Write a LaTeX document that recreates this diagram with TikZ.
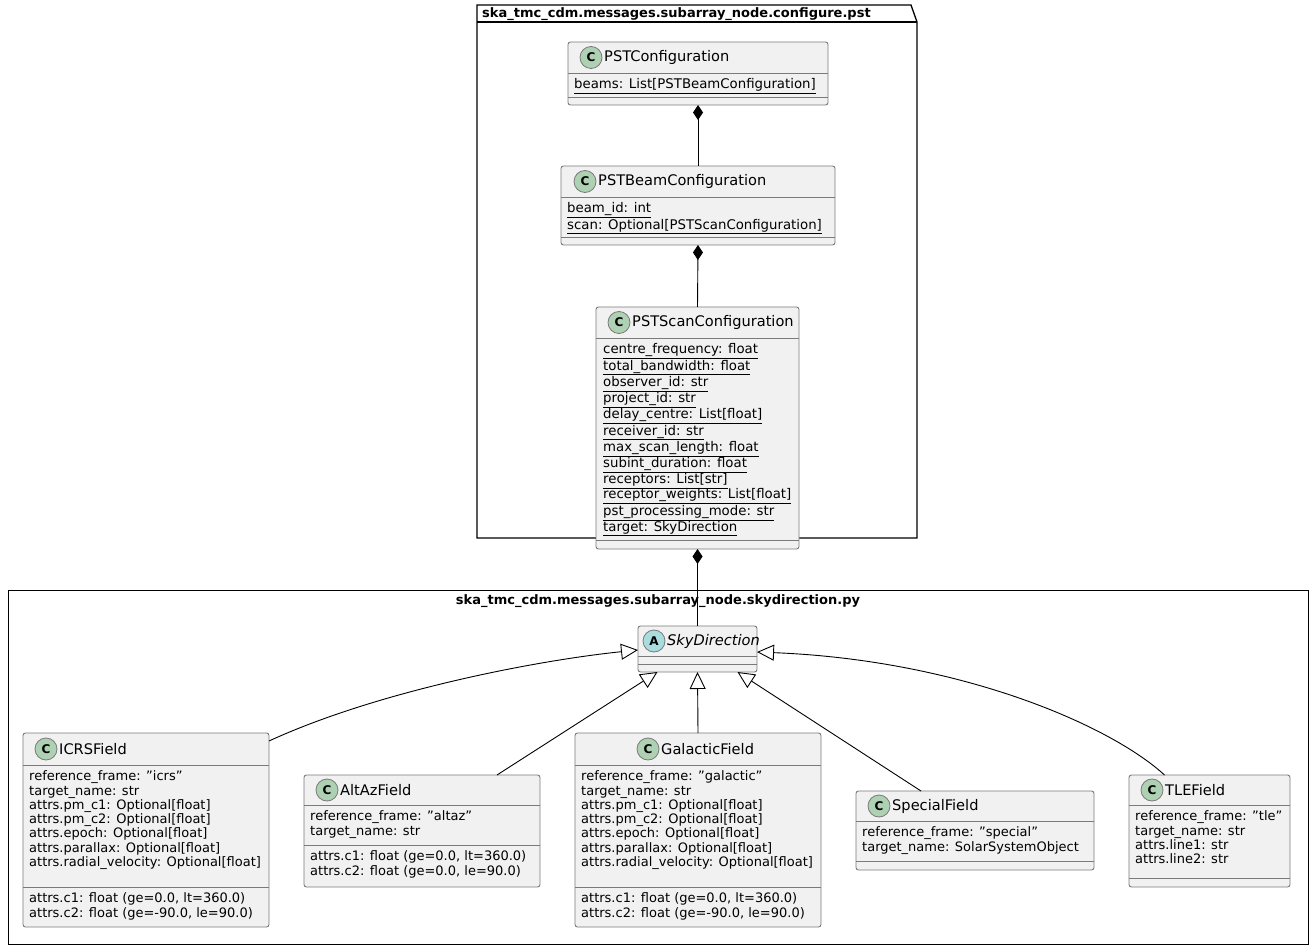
\documentclass[tikz,border=0pt]{standalone}
\usepackage{fontspec}
\setmainfont{DejaVu Sans}
\usepackage{tikz}
\usetikzlibrary{arrows.meta,positioning,shapes.geometric}

\definecolor{boxfill}{HTML}{F1F1F1}
\definecolor{boxline}{HTML}{7A7A7A}
\definecolor{cgreen}{HTML}{ADD1B2}
\definecolor{ablue}{HTML}{A9DCDF}

\newcommand{\dq}{\symbol{34}}

\tikzset{
  umlbox/.style={draw=boxline, fill=boxfill, line width=0.9pt, rounded corners=2.5pt,
    inner sep=0pt, outer sep=0pt},
  umlsep/.style={draw=boxline, line width=0.9pt},
  circ/.style={circle, draw=boxline, line width=0.8pt, minimum size=22pt, inner sep=0pt,
    font=\fontsize{12}{12}\selectfont\bfseries},
  title/.style={anchor=west, inner sep=0pt, font=\fontsize{14.6}{14.6}\selectfont},
  attrs/.style={anchor=north west, inner sep=0pt, align=left,
    font=\fontsize{13}{14.3}\selectfont},
  uattrs/.style={attrs, font=\fontsize{13.3}{15.2}\selectfont},
  pkg/.style={draw=black, line width=1.3pt},
  comp/.style={{Diamond[fill=black,length=15pt,width=10pt]}-, line width=0.9pt},
  inh/.style={-{Triangle[open,fill=white,length=17pt,width=16pt]}, line width=0.9pt}
}

% box: name, x1, x2, top, sep1, sep2, bottom
\newcommand{\umlclass}[7]{
  \node[umlbox, minimum width={(#3-#2)*1pt}, minimum height={(#7-#4)*1pt}]
    (#1) at ({(#2+#3)/2},{(#4+#7)/2}) {};
  \draw[umlsep] (#2,#5) -- (#3,#5);
  \draw[umlsep] (#2,#6) -- (#3,#6);
}
% header: name, circle x, y, letter, colour, title
\newcommand{\umlhead}[6]{
  \node[circ, fill=#5] (#1-c) at (#2,#3) {#4};
  \node[title] (#1-t) at (#2+13,#3) {#6};
}

\begin{document}
\begin{tikzpicture}[x=1pt, y=-1pt]
  \useasboundingbox (0,0) rectangle (1312,949);

  % packages
  \draw[pkg] (477,22) -- (477,5) -- (911,5) -- (917,22) -- (917,538) -- (477,538) -- cycle;
  \draw[pkg] (477,22) -- (917,22);
  \node[anchor=base west, inner sep=0pt, font=\fontsize{13}{13}\selectfont\bfseries]
    (pstpkg) at (482,18) {ska\_tmc\_cdm.messages.subarray\_node.configure.pst};
  \draw[pkg, line width=1pt] (8,590) rectangle (1308,944);
  \node[inner sep=0pt, font=\fontsize{13}{13}\selectfont\bfseries]
    (skypkg) at (658,601) {ska\_tmc\_cdm.messages.subarray\_node.skydirection.py};

  % pst classes
  \umlclass{pstconf}{568}{828}{42}{73}{97}{105}
  \umlhead{pstconf}{591}{57.5}{C}{cgreen}{PSTConfiguration}
  \node[uattrs] (pstconf-a) at (574,78) {\strut\underline{beams: List[PSTBeamConfiguration]}};

  \umlclass{pstbeam}{561}{835}{166}{197}{237}{245}
  \umlhead{pstbeam}{585}{181.5}{C}{cgreen}{PSTBeamConfiguration}
  \node[uattrs] (pstbeam-a) at (567,202) {\strut\underline{beam\_id: int}\\
    \underline{scan: Optional[PSTScanConfiguration]}};

  \umlclass{pstscan}{596}{799}{307}{338}{540}{549}
  \umlhead{pstscan}{619}{322.5}{C}{cgreen}{PSTScanConfiguration}
  \node[uattrs] (pstscan-a) at (603,343) {\strut\underline{centre\_frequency: float}\\
    \underline{total\_bandwidth: float}\\
    \underline{observer\_id: str}\\
    \underline{project\_id: str}\\
    \underline{delay\_centre: List[float]}\\
    \underline{receiver\_id: str}\\
    \underline{max\_scan\_length: float}\\
    \underline{subint\_duration: float}\\
    \underline{receptors: List[str]}\\
    \underline{receptor\_weights: List[float]}\\
    \underline{pst\_processing\_mode: str}\\
    \underline{target: SkyDirection}};

  % sky direction classes
  \umlclass{sky}{638}{757}{626}{656}{664}{672}
  \umlhead{sky}{654}{641}{A}{ablue}{\itshape SkyDirection}

  \umlclass{icrs}{23}{269}{733}{765}{887}{927}
  \umlhead{icrs}{46}{749}{C}{cgreen}{ICRSField}
  \node[attrs] (icrs-a) at (29,770.5) {\strut reference\_frame: \dq icrs\dq\\ target\_name: str\\
    attrs.pm\_c1: Optional[float]\\ attrs.pm\_c2: Optional[float]\\
    attrs.epoch: Optional[float]\\ attrs.parallax: Optional[float]\\
    attrs.radial\_velocity: Optional[float]};
  \node[attrs] (icrs-m) at (29,892.5) {\strut attrs.c1: float (ge=0.0, lt=360.0)\\
    attrs.c2: float (ge=-90.0, le=90.0)};

  \umlclass{altaz}{304}{540}{775}{805}{845}{887}
  \umlhead{altaz}{327}{790}{C}{cgreen}{AltAzField}
  \node[attrs] (altaz-a) at (310,810.5) {\strut reference\_frame: \dq altaz\dq\\ target\_name: str};
  \node[attrs] (altaz-m) at (310,850.5) {\strut attrs.c1: float (ge=0.0, lt=360.0)\\
    attrs.c2: float (ge=0.0, le=90.0)};

  \umlclass{gal}{575}{821}{733}{765}{887}{927}
  \umlhead{gal}{648}{749}{C}{cgreen}{GalacticField}
  \node[attrs] (gal-a) at (581,770.5) {\strut reference\_frame: \dq galactic\dq\\ target\_name: str\\
    attrs.pm\_c1: Optional[float]\\ attrs.pm\_c2: Optional[float]\\
    attrs.epoch: Optional[float]\\ attrs.parallax: Optional[float]\\
    attrs.radial\_velocity: Optional[float]};
  \node[attrs] (gal-m) at (581,892.5) {\strut attrs.c1: float (ge=0.0, lt=360.0)\\
    attrs.c2: float (ge=-90.0, le=90.0)};

  \umlclass{special}{856}{1094}{791}{821}{861}{870}
  \umlhead{special}{879}{806}{C}{cgreen}{SpecialField}
  \node[attrs] (special-a) at (862,826.5) {\strut reference\_frame: \dq special\dq\\
    target\_name: SolarSystemObject};

  \umlclass{tle}{1129}{1290}{775}{805}{878}{887}
  \umlhead{tle}{1152}{790}{C}{cgreen}{TLEField}
  \node[attrs] (tle-a) at (1135,810.5) {\strut reference\_frame: \dq tle\dq\\ target\_name: str\\
    attrs.line1: str\\ attrs.line2: str};

  % connectors
  \draw[comp] (pstconf.south) -- (pstbeam.north);
  \draw[comp] (pstbeam.south) -- (pstscan.north);
  \draw[comp] (pstscan.south) -- (sky.north);
  \draw[inh] ([yshift=-8pt]icrs.north east) .. controls (380,690) and (540,660) .. ([yshift=-24pt]sky.north west);
  \draw[inh] ([xshift=75pt]altaz.north) -- ([xshift=-40pt]sky.south);
  \draw[inh] (gal.north) -- (sky.south);
  \draw[inh] ([xshift=-54pt]special.north) -- ([xshift=40pt]sky.south);
  \draw[inh] ([xshift=-45pt]tle.north) .. controls (1110,725) and (960,660) .. ([yshift=-26pt]sky.north east);
\end{tikzpicture}
\end{document}
